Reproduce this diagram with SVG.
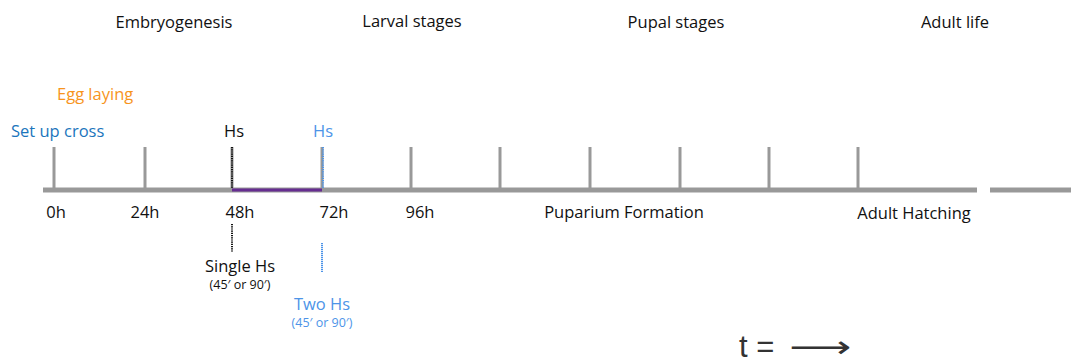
<svg xmlns="http://www.w3.org/2000/svg" width="1071" height="364" viewBox="0 0 1071 364">
<style>
text{font-family:"Open Sans","Liberation Sans",sans-serif;font-size:16.5px;fill:#111}
.c{text-anchor:middle}
.s{font-size:12.5px}
.tick{stroke:#999;stroke-width:3}
.axis{stroke:#999;stroke-width:5}
.lb{fill:#4d94e8}
</style>
<rect width="1071" height="364" fill="#fff"/>
<g id="stages">
<text class="c" x="174" y="28">Embryogenesis</text>
<text class="c" x="412" y="27">Larval stages</text>
<text class="c" x="676" y="28">Pupal stages</text>
<text class="c" x="955" y="28">Adult life</text>
</g>
<g id="axis">
<line class="axis" x1="43" y1="190" x2="977" y2="190"/>
<line class="axis" x1="990" y1="190" x2="1071" y2="190"/>
<line class="tick" x1="54" y1="147" x2="54" y2="188"/>
<line class="tick" x1="145" y1="147" x2="145" y2="188"/>
<line class="tick" x1="232" y1="147" x2="232" y2="188"/>
<line class="tick" x1="322" y1="147" x2="322" y2="188"/>
<line class="tick" x1="411" y1="147" x2="411" y2="188"/>
<line class="tick" x1="500" y1="147" x2="500" y2="188"/>
<line class="tick" x1="590" y1="147" x2="590" y2="188"/>
<line class="tick" x1="680" y1="147" x2="680" y2="188"/>
<line class="tick" x1="769" y1="147" x2="769" y2="188"/>
<line class="tick" x1="858" y1="147" x2="858" y2="188"/>
</g>
<g id="connectors">
<line x1="232" y1="147" x2="232" y2="188" stroke="#111" stroke-width="2" stroke-dasharray="1.2 1"/>
<line x1="323" y1="147" x2="323" y2="188" stroke="#4d94e8" stroke-width="2" stroke-dasharray="1.2 1"/>
<line x1="232" y1="190" x2="322" y2="190" stroke="#662d91" stroke-width="3"/>
<line x1="232" y1="224" x2="232" y2="252" stroke="#111" stroke-width="2" stroke-dasharray="1.2 1"/>
<line x1="322" y1="243" x2="322" y2="272" stroke="#4d94e8" stroke-width="2" stroke-dasharray="1.2 0.8"/>
</g>
<g id="events">
<text x="57" y="100" style="fill:#f7941d">Egg laying</text>
<text x="11" y="137" style="fill:#1b75bc">Set up cross</text>
<text class="c" x="234" y="137">Hs</text>
<text class="c lb" x="323" y="137">Hs</text>
</g>
<g id="hours">
<text class="c" x="56" y="218">0h</text>
<text class="c" x="145" y="218">24h</text>
<text class="c" x="240" y="218">48h</text>
<text class="c" x="334" y="218">72h</text>
<text class="c" x="420" y="218">96h</text>
<text class="c" x="624" y="218">Puparium Formation</text>
<text class="c" x="914" y="219">Adult Hatching</text>
</g>
<g id="single">
<text class="c" x="240" y="272">Single Hs</text>
<text class="c s" x="240" y="289">(45′ or 90′)</text>
</g>
<g id="two">
<text class="c lb" x="322" y="310">Two Hs</text>
<text class="c s lb" x="322" y="327">(45′ or 90′)</text>
</g>
<g id="legend">
<text x="739" y="357" style="font-family:'Liberation Sans',sans-serif;font-size:31px;fill:#333">t =<tspan x="789" y="357" textLength="62" lengthAdjust="spacingAndGlyphs" style="font-family:'DejaVu Sans',sans-serif;font-size:30px">⟶</tspan></text>
</g>
</svg>
